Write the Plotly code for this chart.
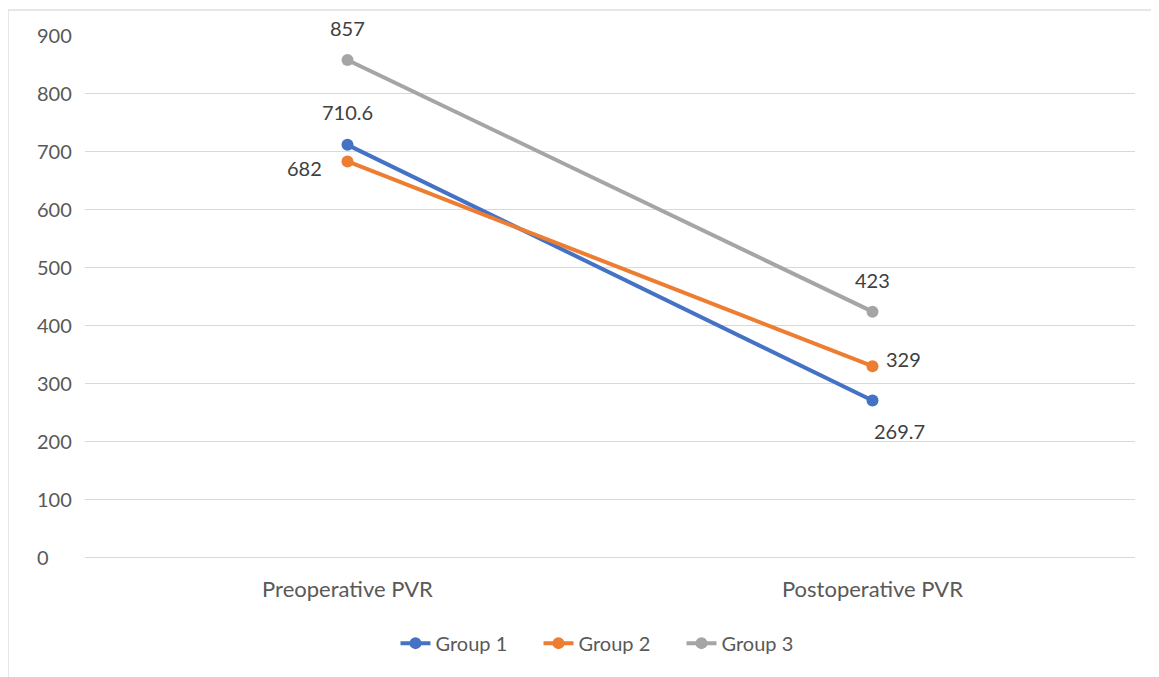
import plotly.graph_objects as go

categories = ["Preoperative PVR", "Postoperative PVR"]
series_names = ["Group 1", "Group 2", "Group 3"]
group1 = [710.6, 269.7]
group2 = [682, 329]
group3 = [857, 423]
y_ticks = [0, 100, 200, 300, 400, 500, 600, 700, 800, 900]
colors = ["#4472C4", "#ED7D31", "#A5A5A5"]
# label placement per point: (xanchor, xshift, yshift)
label_style = {
    "Group 1": [("center", 0, 33), ("center", 27, -30)],
    "Group 2": [("right", -24, -7), ("left", 11, 7)],
    "Group 3": [("center", 0, 32), ("center", 0, 32)],
}

FONT = "Lato, Carlito, Calibri, sans-serif"
fig = go.Figure()
for name, vals, col in zip(series_names, [group1, group2, group3], colors):
    fig.add_trace(go.Scatter(
        x=[0, 1], y=vals, name=name, mode="lines+markers",
        line=dict(color=col, width=4),
        marker=dict(color=col, size=12),
        cliponaxis=False,
    ))
    for i, v in enumerate(vals):
        xa, xs, ys = label_style[name][i]
        fig.add_annotation(x=i, y=v, xref="x", yref="y", text=f"{v:g}",
                           showarrow=False, xanchor=xa, yanchor="middle",
                           xshift=xs, yshift=ys,
                           font=dict(family=FONT, size=20, color="#404040"))

fig.update_layout(
    width=1151, height=669,
    margin=dict(l=77, r=24, t=27, b=120),
    paper_bgcolor="white", plot_bgcolor="white",
    showlegend=True,
    legend=dict(orientation="h", x=0.5, xanchor="center", y=-0.165, yanchor="middle",
                font=dict(family=FONT, size=20, color="#595959"),
                itemwidth=30, tracegroupgap=0,
                entrywidth=98, entrywidthmode="pixels"),
    font=dict(family=FONT),
)
fig.update_xaxes(
    range=[-0.5, 1.5], tickmode="array", tickvals=[0, 1], ticktext=categories,
    showgrid=False, zeroline=False, showline=False, ticks="",
    tickfont=dict(family=FONT, size=22, color="#595959"), ticklabelstandoff=17,
)
fig.update_yaxes(
    range=[0, 900], tickmode="array", tickvals=y_ticks, showticklabels=False,
    showgrid=True, gridcolor="#D9D9D9", gridwidth=1,
    zeroline=True, zerolinecolor="#D9D9D9", zerolinewidth=1, showline=False,
)
for t in y_ticks:
    fig.add_annotation(x=-0.0476, xref="paper", xanchor="left", y=t, yref="y",
                       text=str(t), showarrow=False,
                       font=dict(family=FONT, size=20, color="#595959"))
# outer chart border (top, left and right edges visible)
fig.add_shape(type="line", xref="paper", yref="paper", x0=-0.0733, x1=1.022, y0=1.048, y1=1.048,
              line=dict(color="#E6E6E6", width=2))
fig.add_shape(type="line", xref="paper", yref="paper", x0=-0.0733, x1=-0.0733, y0=1.048, y1=-0.3,
              line=dict(color="#E6E6E6", width=2))
fig.add_shape(type="line", xref="paper", yref="paper", x0=1.022, x1=1.022, y0=1.048, y1=-0.3,
              line=dict(color="#F0F0F0", width=1))

fig.write_html("out.html")
